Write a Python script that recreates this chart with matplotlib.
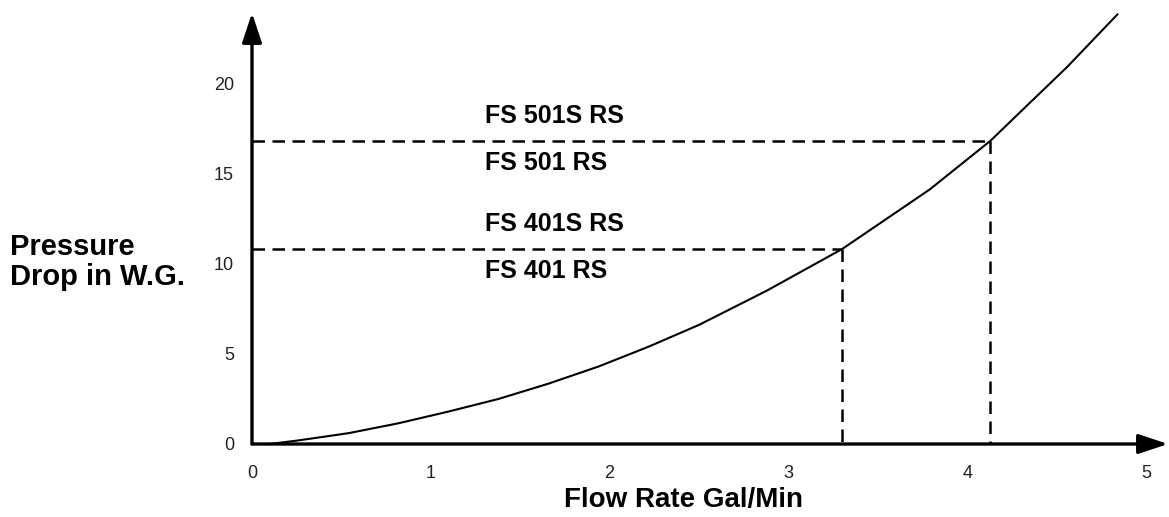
import matplotlib.pyplot as plt

# values
flow_rate = [0.10, 0.26, 0.54, 0.82, 1.10, 1.38, 1.66, 1.94, 2.22, 2.50,
             2.88, 3.30, 3.79, 4.13, 4.35, 4.56, 4.84]
pressure_drop = [0.0, 0.2, 0.6, 1.15, 1.8, 2.5, 3.35, 4.3, 5.4, 6.6,
                 8.5, 10.8, 14.1, 16.8, 18.9, 20.9, 23.8]

# rated points marked with dashed guide lines
rated_flow = [3.30, 4.13]
rated_drop = [10.8, 16.8]
labels_above = ['FS 401S RS', 'FS 501S RS']
labels_below = ['FS 401 RS', 'FS 501 RS']
label_x = 1.305

x_ticks = [0, 1, 2, 3, 4, 5]
y_ticks = [0, 5, 10, 15, 20]

plt.rcParams['font.family'] = ['Liberation Sans', 'DejaVu Sans']

W, H = 1169, 517
fig = plt.figure(figsize=(W / 100, H / 100), dpi=100)
# axes box from the axis origin to the arrow tips (pixel measurements)
ax = fig.add_axes([252 / W, 1 - 444 / H, (1168 - 252) / W, (444 - 13) / H])
ax.set_xlim(0, 5.123)
ax.set_ylim(0, 23.88)
for s in ax.spines.values():
    s.set_visible(False)

# curve
ax.plot(flow_rate, pressure_drop, color='black', lw=1.5, solid_joinstyle='round')

# dashed guide lines and labels
for q, p, top, bot in zip(rated_flow, rated_drop, labels_above, labels_below):
    ax.plot([0, q], [p, p], color='black', lw=1.8, dashes=[5, 3])
    ax.plot([q, q], [p, 0], color='black', lw=1.8, dashes=[5, 3])
    ax.annotate(top, xy=(label_x, p), xytext=(0, 18), textcoords='offset points',
                ha='left', va='center', fontsize=18, fontweight='bold')
    ax.annotate(bot, xy=(label_x, p), xytext=(0, -16), textcoords='offset points',
                ha='left', va='center', fontsize=18, fontweight='bold')

# axes with arrow heads
arrow = dict(arrowstyle='-|>,head_length=0.9,head_width=0.3', color='black',
             lw=2.4, shrinkA=0, shrinkB=0, mutation_scale=20)
ax.annotate('', xy=(0, 1), xytext=(0, 0), xycoords='axes fraction', arrowprops=arrow)
ax.annotate('', xy=(1, 0), xytext=(0, 0), xycoords='axes fraction', arrowprops=arrow)

ax.set_xticks(x_ticks)
ax.set_yticks(y_ticks)
ax.tick_params(axis='both', length=0, labelsize=13, colors='#222222')
ax.tick_params(axis='x', pad=15)
ax.tick_params(axis='y', pad=13)

fig.text(10 / W, 1 - 262 / H, 'Pressure\nDrop in W.G.', ha='left', va='center',
         fontsize=21, fontweight='bold', linespacing=1.1)
fig.text(684 / W, 1 - 500 / H, 'Flow Rate Gal/Min', ha='center', va='center',
         fontsize=20, fontweight='bold')

fig.savefig('out.png', dpi=100)
